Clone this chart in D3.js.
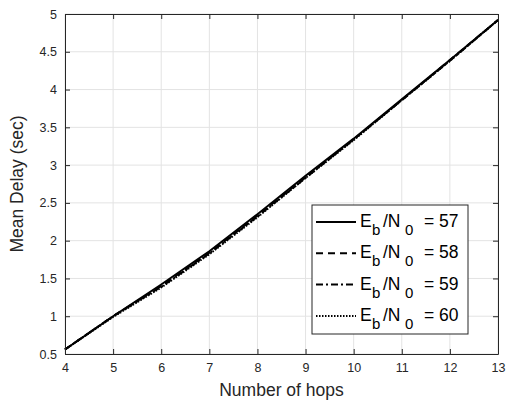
<!DOCTYPE html>
<html>
<head>
<meta charset="utf-8">
<script src="https://cdn.jsdelivr.net/npm/d3@7"></script>
<style>
  html, body { margin: 0; padding: 0; background: #fff; }
  svg { display: block; font-family: "Liberation Sans", Arial, sans-serif; }
</style>
</head>
<body>
<svg id="chart" width="512" height="404"></svg>
<script>
// Number of hops
const hops = [4, 5, 6, 7, 8, 9, 10, 11, 12, 13];
// Mean delay (sec) for each Eb/N0 setting
const delay57 = [0.56, 1.00, 1.42, 1.86, 2.35, 2.86, 3.35, 3.87, 4.39, 4.92];
const delay58 = [0.56, 1.00, 1.40, 1.84, 2.33, 2.84, 3.34, 3.86, 4.39, 4.92];
const delay59 = [0.56, 1.00, 1.39, 1.83, 2.32, 2.83, 3.34, 3.86, 4.38, 4.92];
const delay60 = [0.56, 0.99, 1.38, 1.82, 2.31, 2.83, 3.33, 3.86, 4.38, 4.92];
const ebn0 = [57, 58, 59, 60];
const xTicks = [4, 5, 6, 7, 8, 9, 10, 11, 12, 13];
const yTicks = [0.5, 1, 1.5, 2, 2.5, 3, 3.5, 4, 4.5, 5];

const seriesList = [
  { e: ebn0[0], values: delay57, dash: null },
  { e: ebn0[1], values: delay58, dash: "7,5" },
  { e: ebn0[2], values: delay59, dash: "7,3,2,3" },
  { e: ebn0[3], values: delay60, dash: "1.5,1.5" }
];

const svg = d3.select("#chart");
const m = { left: 65, right: 14, top: 14, bottom: 50 };
const W = 512, H = 404;
const x = d3.scaleLinear().domain([4, 13]).range([m.left, W - m.right]);
const y = d3.scaleLinear().domain([0.5, 5]).range([H - m.bottom, m.top]);
const axisColor = "#262626";

// grid
const grid = svg.append("g");
grid.selectAll(".gx").data(xTicks).join("line")
  .attr("x1", d => x(d)).attr("x2", d => x(d))
  .attr("y1", y(0.5)).attr("y2", y(5))
  .attr("stroke", "#e3e3e3").attr("stroke-width", 1);
grid.selectAll(".gy").data(yTicks).join("line")
  .attr("x1", x(4)).attr("x2", x(13))
  .attr("y1", d => y(d)).attr("y2", d => y(d))
  .attr("stroke", "#e3e3e3").attr("stroke-width", 1);

// curves
const line = d3.line().x((d, i) => x(hops[i])).y(d => y(d));
svg.append("g").selectAll("path").data(seriesList).join("path")
  .attr("d", s => line(s.values))
  .attr("fill", "none")
  .attr("stroke", "#000")
  .attr("stroke-width", 2)
  .attr("stroke-dasharray", s => s.dash);

// axes (inward ticks, box on all sides)
const tickLen = 5;
const fmt = d => String(d);
const xb = svg.append("g").attr("transform", `translate(0,${y(0.5)})`)
  .call(d3.axisBottom(x).tickValues(xTicks).tickFormat(fmt).tickSizeInner(-tickLen).tickSizeOuter(0).tickPadding(9));
const xt = svg.append("g").attr("transform", `translate(0,${y(5)})`)
  .call(d3.axisTop(x).tickValues(xTicks).tickFormat("").tickSizeInner(-tickLen).tickSizeOuter(0));
const yl = svg.append("g").attr("transform", `translate(${x(4)},0)`)
  .call(d3.axisLeft(y).tickValues(yTicks).tickFormat(fmt).tickSizeInner(-tickLen).tickSizeOuter(0).tickPadding(8));
const yr = svg.append("g").attr("transform", `translate(${x(13)},0)`)
  .call(d3.axisRight(y).tickValues(yTicks).tickFormat("").tickSizeInner(-tickLen).tickSizeOuter(0));
[xb, xt, yl, yr].forEach(g => {
  g.select(".domain").attr("stroke", axisColor).attr("stroke-width", 1);
  g.selectAll(".tick line").attr("stroke", axisColor);
  g.selectAll(".tick text").attr("fill", axisColor).attr("font-size", 12.5)
    .attr("font-family", "'Liberation Sans', Arial, sans-serif");
});

// axis labels
svg.append("text")
  .attr("x", (x(4) + x(13)) / 2).attr("y", 396)
  .attr("text-anchor", "middle").attr("font-size", 17.5).attr("fill", axisColor)
  .text("Number of hops");
svg.append("text")
  .attr("transform", `translate(23,${(y(0.5) + y(5)) / 2}) rotate(-90)`)
  .attr("text-anchor", "middle").attr("font-size", 17.5).attr("fill", axisColor)
  .text("Mean Delay (sec)");

// legend
const lg = svg.append("g").attr("transform", "translate(312,205)");
lg.append("rect").attr("width", 156).attr("height", 129)
  .attr("fill", "#fff").attr("stroke", axisColor).attr("stroke-width", 1);
const rows = lg.selectAll("g.row").data(seriesList).join("g")
  .attr("transform", (d, i) => `translate(0,${17 + i * 31.3})`);
rows.append("line").attr("x1", 4).attr("x2", 44).attr("y1", 0).attr("y2", 0)
  .attr("stroke", "#000").attr("stroke-width", 2)
  .attr("stroke-dasharray", d => d.dash);
const t = rows.append("text").attr("y", 5)
  .attr("font-size", 17.5).attr("fill", "#000");
t.append("tspan").attr("x", 48).text("E");
t.append("tspan").attr("x", 60).attr("font-size", 15).attr("dy", 8).text("b");
t.append("tspan").attr("x", 71).attr("dy", -8).text("/N");
t.append("tspan").attr("x", 93).attr("font-size", 15).attr("dy", 8).text("0");
t.append("tspan").attr("x", 112).attr("dy", -8).text(d => `= ${d.e}`);
</script>
</body>
</html>
